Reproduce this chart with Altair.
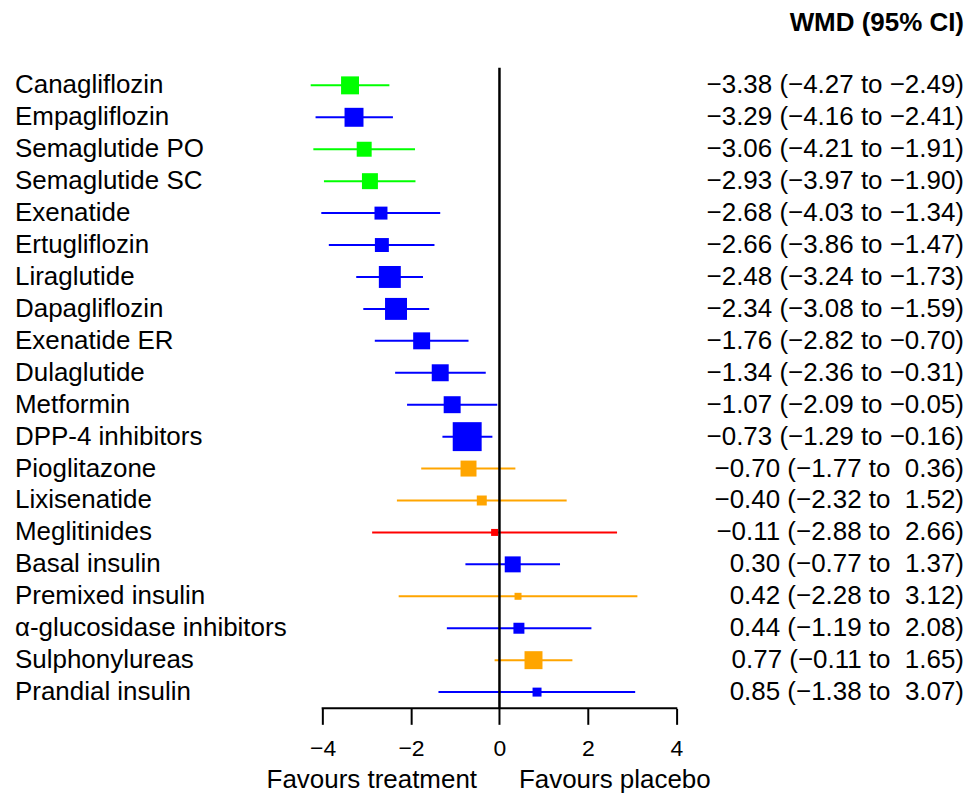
import altair as alt
import pandas as pd

drugs = ["Canagliflozin", "Empagliflozin", "Semaglutide PO", "Semaglutide SC", "Exenatide",
         "Ertugliflozin", "Liraglutide", "Dapagliflozin", "Exenatide ER", "Dulaglutide",
         "Metformin", "DPP-4 inhibitors", "Pioglitazone", "Lixisenatide", "Meglitinides",
         "Basal insulin", "Premixed insulin", "\u03b1-glucosidase inhibitors", "Sulphonylureas",
         "Prandial insulin"]
wmd = [-3.38, -3.29, -3.06, -2.93, -2.68, -2.66, -2.48, -2.34, -1.76, -1.34,
       -1.07, -0.73, -0.70, -0.40, -0.11, 0.30, 0.42, 0.44, 0.77, 0.85]
lower = [-4.27, -4.16, -4.21, -3.97, -4.03, -3.86, -3.24, -3.08, -2.82, -2.36,
         -2.09, -1.29, -1.77, -2.32, -2.88, -0.77, -2.28, -1.19, -0.11, -1.38]
upper = [-2.49, -2.41, -1.91, -1.90, -1.34, -1.47, -1.73, -1.59, -0.70, -0.31,
         -0.05, -0.16, 0.36, 1.52, 2.66, 1.37, 3.12, 2.08, 1.65, 3.07]
colors = ["#00FF00", "#0000FF", "#00FF00", "#00FF00", "#0000FF",
          "#0000FF", "#0000FF", "#0000FF", "#0000FF", "#0000FF",
          "#0000FF", "#0000FF", "#FFA500", "#FFA500", "#FF0000",
          "#0000FF", "#FFA500", "#0000FF", "#FFA500", "#0000FF"]
box_side = [18, 19, 15, 16, 13, 14, 22, 22, 17, 17,
            17, 29, 16, 10, 7, 16, 7, 11, 18, 9]
tick_values = [-4, -2, 0, 2, 4]
header = "WMD (95% CI)"
left_note = "Favours treatment"
right_note = "Favours placebo"

MINUS = "\u2212"


def fmt(v):
    return f"{v:.2f}".replace("-", MINUS)


def fmt_hi(v):
    s = fmt(v)
    return s if v < 0 else "\u00a0" + s


df = pd.DataFrame({
    "drug": drugs,
    "row": list(range(len(drugs))),
    "wmd": wmd,
    "lower": lower,
    "upper": upper,
    "color": colors,
    "size": [s * s for s in box_side],
})
df["label"] = [f"{fmt(w)} ({fmt(l)} to {fmt_hi(h)})" for w, l, h in zip(wmd, lower, upper)]

W, H = 958, 701
FONT = "Liberation Sans"

xscale = alt.Scale(domain=[-11.117, 10.508], nice=False, zero=False)
yscale = alt.Scale(domain=[-2.397, 19.509], reverse=True, nice=False, zero=False)

base = alt.Chart(df)

ci = base.mark_rule(strokeWidth=2).encode(
    x=alt.X("lower:Q", scale=xscale,
            axis=alt.Axis(values=tick_values, domain=False, grid=False, tickSize=16,
                          tickWidth=2, tickColor="black", labelFontSize=23,
                          labelFont=FONT, labelColor="black", labelPadding=13,
                          title=None, labelFlush=False)),
    x2="upper:Q",
    y=alt.Y("row:Q", scale=yscale, axis=None),
    color=alt.Color("color:N", scale=None),
)

boxes = base.mark_square(opacity=1, filled=True).encode(
    x=alt.X("wmd:Q", scale=xscale),
    y=alt.Y("row:Q", scale=yscale),
    color=alt.Color("color:N", scale=None),
    size=alt.Size("size:Q", scale=None),
)

zero_line = alt.Chart(pd.DataFrame({"z": [0]})).mark_rule(strokeWidth=2.5, color="black").encode(
    x=alt.X("z:Q", scale=xscale),
    y=alt.value(59),
    y2=alt.value(H),
)

axis_line = alt.Chart(pd.DataFrame({"a": [min(tick_values)], "b": [max(tick_values)]})).mark_rule(
    strokeWidth=2, color="black", strokeCap="square").encode(
    x=alt.X("a:Q", scale=xscale),
    x2="b:Q",
    y=alt.value(H),
)

names = base.mark_text(align="left", baseline="middle", fontSize=26, font=FONT, color="black").encode(
    x=alt.value(7),
    y=alt.Y("row:Q", scale=yscale),
    text="drug:N",
)

values = base.mark_text(align="right", baseline="middle", fontSize=26, font=FONT, color="black").encode(
    x=alt.value(W),
    y=alt.Y("row:Q", scale=yscale),
    text="label:N",
)

head = alt.Chart(pd.DataFrame({"t": [header]})).mark_text(
    align="right", baseline="middle", fontSize=26, font=FONT, fontWeight="bold", color="black").encode(
    x=alt.value(W), y=alt.value(14), text="t:N")

note_l = alt.Chart(pd.DataFrame({"t": [left_note]})).mark_text(
    align="right", baseline="alphabetic", fontSize=26, font=FONT, color="black").encode(
    x=alt.value(470), y=alt.value(781), text="t:N")

note_r = alt.Chart(pd.DataFrame({"t": [right_note]})).mark_text(
    align="left", baseline="alphabetic", fontSize=26, font=FONT, color="black").encode(
    x=alt.value(512), y=alt.value(781), text="t:N")

chart = alt.layer(ci, zero_line, axis_line, boxes, names, values, head, note_l, note_r).properties(
    width=W, height=H,
    autosize=alt.AutoSizeParams(type="none"),
    padding={"left": 0, "top": 0, "right": 0, "bottom": 85},
).configure(background="white", view=alt.ViewConfig(stroke=None))

chart.save("out.html", embed_options={"renderer": "svg", "actions": False})
